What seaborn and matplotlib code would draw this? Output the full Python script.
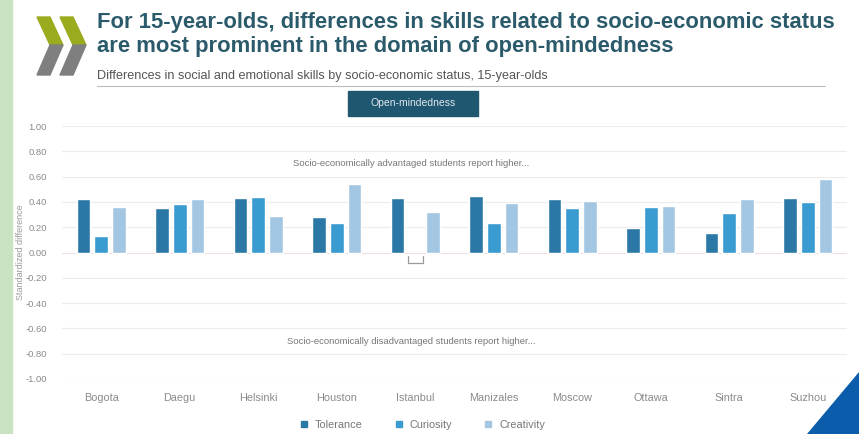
import matplotlib
matplotlib.use('Agg')
import matplotlib.pyplot as plt
from matplotlib.patches import Polygon, Rectangle
from matplotlib.lines import Line2D
import seaborn as sns
import numpy as np
import pandas as pd

# Data
cities = ['Bogota', 'Daegu', 'Helsinki', 'Houston', 'Istanbul',
          'Manizales', 'Moscow', 'Ottawa', 'Sintra', 'Suzhou']
skills = ['Tolerance', 'Curiosity', 'Creativity']
tolerance = [0.42, 0.35, 0.43, 0.28, 0.43, 0.445, 0.42, 0.195, 0.155, 0.43]
curiosity = [0.13, 0.38, 0.44, 0.23, np.nan, 0.23, 0.35, 0.36, 0.31, 0.40]
creativity = [0.36, 0.42, 0.29, 0.54, 0.32, 0.39, 0.41, 0.37, 0.42, 0.58]
colors = ['#2b78a6', '#3a9bd0', '#a3c7e2']

df = pd.DataFrame({
    'city': cities * 3,
    'skill': np.repeat(skills, len(cities)),
    'value': tolerance + curiosity + creativity,
})

sns.set_style('white')
plt.rcParams['font.family'] = ['Liberation Sans', 'DejaVu Sans']

fig = plt.figure(figsize=(8.59, 4.34), dpi=100)
ax = fig.add_axes([62 / 859, 1 - 379 / 434, 785 / 859, 253 / 434])

sns.barplot(data=df, x='city', y='value', hue='skill', hue_order=skills,
            palette=colors, width=0.68, gap=0.22, errorbar=None,
            saturation=1, legend=False, ax=ax, zorder=3)

ax.set_ylim(-1, 1)
ax.set_xlim(-0.5, len(cities) - 0.5)
yt = np.round(np.arange(-1, 1.01, 0.2), 2)
ax.set_yticks(yt)
ax.set_yticklabels([f'{v + 0:.2f}' if abs(v) > 1e-9 else '0.00' for v in yt])
for v in yt:
    ax.axhline(v, color='#ececec' if abs(v) > 1e-9 else '#f2dede', lw=0.8, zorder=1)
ax.tick_params(axis='y', length=0, pad=11, labelsize=6.8, labelcolor='#8a8a8a')
ax.tick_params(axis='x', length=0, pad=10, labelsize=7.8, labelcolor='#8a8a8a')
ax.set_xlabel('')
ax.set_ylabel('Standardized difference', fontsize=6.5, color='#9a9a9a')
ax.yaxis.set_label_coords((25 - 62) / 785, 0.5)
sns.despine(ax=ax, left=True, bottom=True)

# missing-value marker for Istanbul curiosity
mi = cities.index('Istanbul')
bw = 0.095
ax.plot([mi - bw, mi - bw, mi + bw, mi + bw], [-0.03, -0.08, -0.08, -0.03],
        color='#9a9a9a', lw=0.9, zorder=4)

ax.text(3.95, 0.70, 'Socio-economically advantaged students report higher...',
        ha='center', va='center', fontsize=6.8, color='#777777')
ax.text(3.95, -0.70, 'Socio-economically disadvantaged students report higher...',
        ha='center', va='center', fontsize=6.8, color='#777777')

# legend
handles = [Line2D([], [], marker='s', ls='', color=c, markersize=4.5) for c in colors]
fig.legend(handles, skills, loc='center', bbox_to_anchor=(0.488, 1 - 425 / 434),
           ncol=3, frameon=False, fontsize=7.8, handletextpad=0.05,
           columnspacing=2.3, labelcolor='#777777')

# header
fig.text(97 / 859, 1 - 28 / 434,
         'For 15-year-olds, differences in skills related to socio-economic status',
         ha='left', va='baseline', fontsize=15.8, fontweight='bold', color='#2b5a6b')
fig.text(97 / 859, 1 - 52 / 434,
         'are most prominent in the domain of open-mindedness',
         ha='left', va='baseline', fontsize=15.8, fontweight='bold', color='#2b5a6b')
fig.text(97 / 859, 1 - 79 / 434,
         'Differences in social and emotional skills by socio-economic status, 15-year-olds',
         ha='left', va='baseline', fontsize=9.1, color='#555555')
fig.add_artist(Line2D([97 / 859, 825 / 859], [1 - 86 / 434, 1 - 86 / 434],
                      color='#bdbdbd', lw=0.8))
fig.patches.append(Rectangle((348 / 859, 1 - 116 / 434), 130 / 859, 25 / 434,
                             transform=fig.transFigure, color='#1f5670'))
fig.text(413 / 859, 1 - 103.5 / 434, 'Open-mindedness', ha='center', va='center',
         fontsize=7.5, color='#dfe8ee')

# decorations: side strip, logo chevrons, corner triangle
def px(pts):
    return [(x / 859, 1 - y / 434) for x, y in pts]

fig.patches.append(Rectangle((0, 0), 12 / 859, 1, transform=fig.transFigure,
                             color='#c8e2c2'))
for dx in (0, 23):
    fig.patches.append(Polygon(px([(37 + dx, 17), (50 + dx, 17), (63 + dx, 45), (50 + dx, 45)]),
                               transform=fig.transFigure, color='#9bab1e'))
    fig.patches.append(Polygon(px([(50 + dx, 45), (63 + dx, 45), (50 + dx, 75), (37 + dx, 75)]),
                               transform=fig.transFigure, color='#7f7f7f'))
fig.patches.append(Polygon(px([(807, 434), (859, 434), (859, 372)]),
                           transform=fig.transFigure, color='#0b5caa'))

fig.savefig('out.png', dpi=100)
